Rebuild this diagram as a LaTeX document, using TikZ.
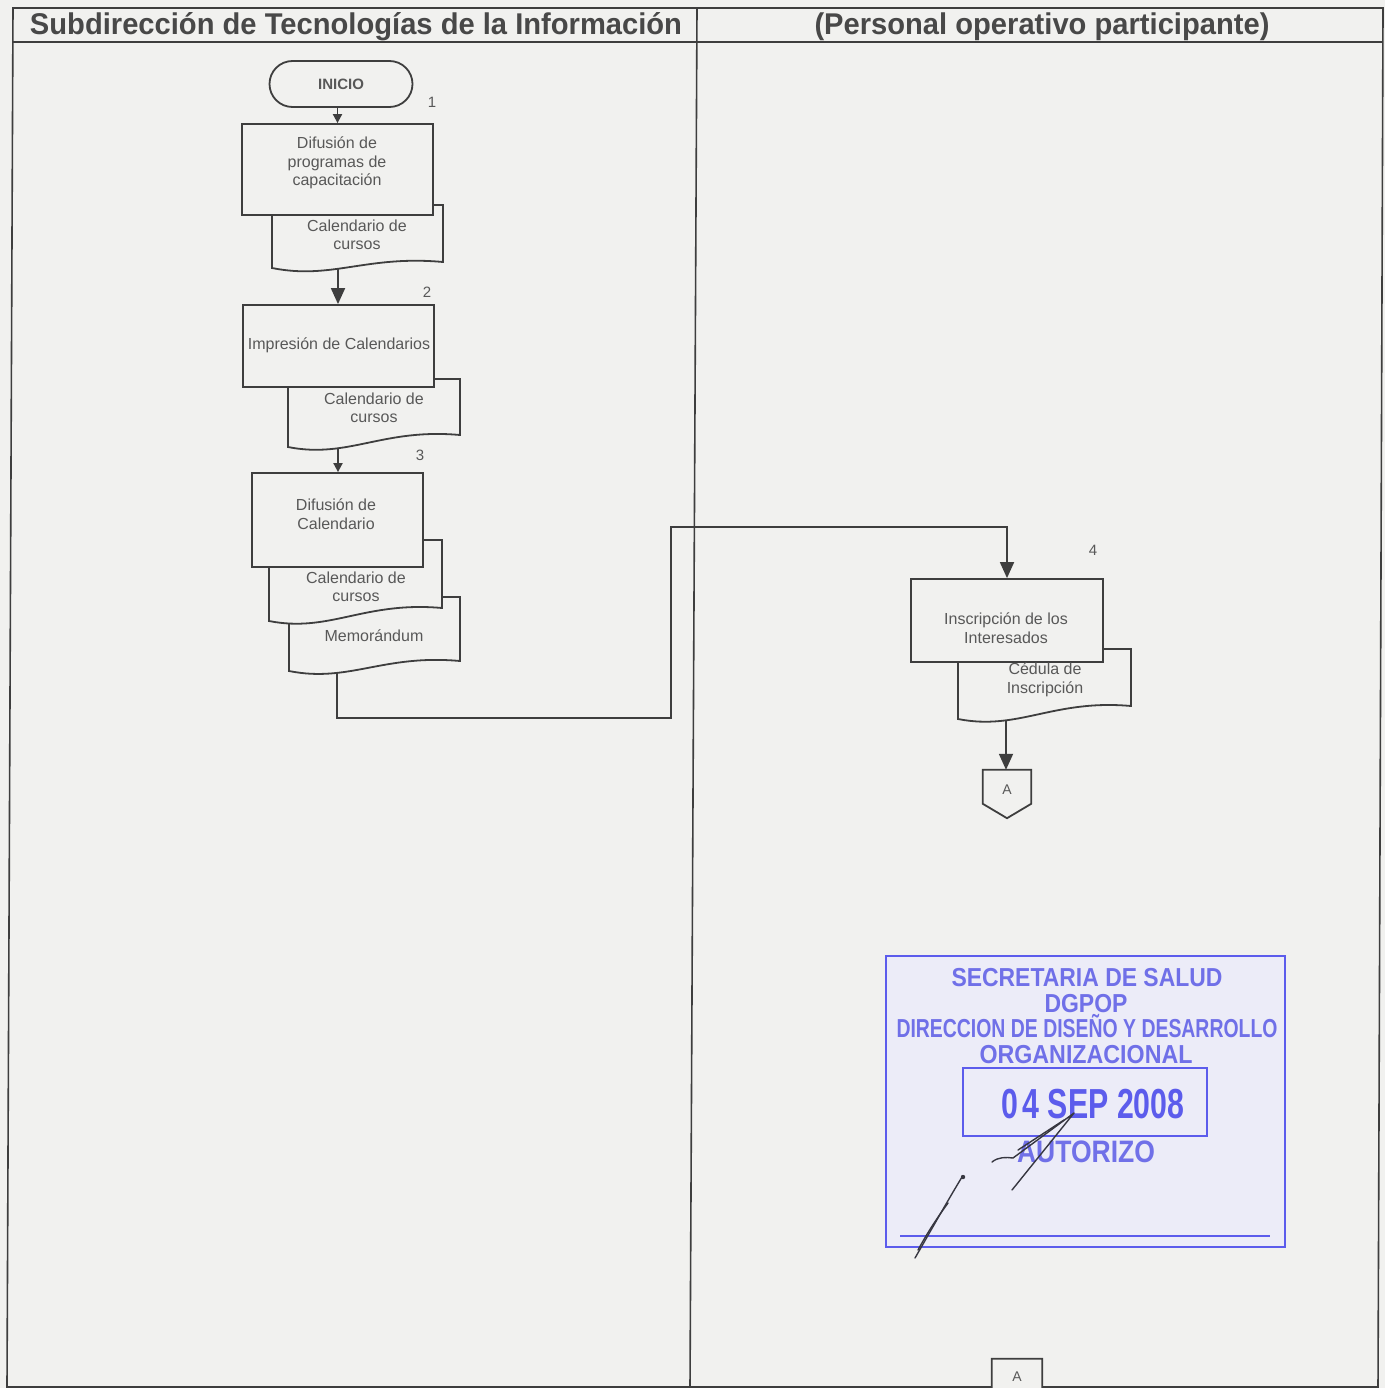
\documentclass[tikz,border=0pt]{standalone}
\usepackage{fontspec}
\setmainfont{Liberation Sans}
\usepackage{graphicx}
\usetikzlibrary{arrows.meta,calc}
\definecolor{bgc}{RGB}{241,241,239}
\definecolor{linec}{RGB}{62,62,62}
\definecolor{txtc}{RGB}{88,88,88}
\definecolor{hdrc}{RGB}{72,72,72}
\definecolor{stampc}{RGB}{92,92,236}
\definecolor{stamptc}{RGB}{112,112,232}
\definecolor{stampfill}{RGB}{236,236,248}
\definecolor{sigc}{RGB}{55,55,65}
\newcommand{\docshape}[5]{% x1, x2, top, y bottom-left, y bottom-right
  \pgfmathsetmacro\dw{#2-#1}%
  \pgfmathsetmacro\cxa{#1+0.35*\dw}%
  \pgfmathsetmacro\cxb{#1+0.55*\dw}%
  \filldraw[docbox] (#1,#3) -- (#2,#3) -- (#2,#5)
    .. controls (\cxb,#5-7) and (\cxa,#4+12) .. (#1,#4) -- cycle;
}
\begin{document}
\begin{tikzpicture}[x=1pt,y=-1pt,
  procbox/.style={draw=linec, fill=bgc, line width=1.8pt, inner sep=0pt},
  docbox/.style={draw=linec, fill=bgc, line width=1.8pt},
  txt/.style={text=txtc, font=\fontsize{16}{18.5}\selectfont, align=center, inner sep=0pt},
  num/.style={text=txtc, font=\fontsize{15}{15}\selectfont, inner sep=0pt},
  flow/.style={draw=linec, line width=1.8pt},
  bigtip/.style={-{Triangle[length=16pt,width=14pt]}},
  smalltip/.style={-{Triangle[length=9pt,width=9pt]}},
  stampline/.style={draw=stampc, line width=2.2pt},
  stamptxt/.style={text=stamptc, anchor=base, inner sep=0pt},
  sig/.style={draw=sigc, line width=1.4pt, line cap=round, line join=round}]
\clip (0,0) rectangle (1385,1388);
\useasboundingbox (0,0) rectangle (1385,1388);
\fill[bgc] (0,0) rectangle (1385,1388);

% frame and lanes
\draw[linec, line width=1.6pt] (13,8) -- (1383,8) -- (1378,1387) -- (7,1387) -- cycle;
\draw[linec, line width=1.6pt] (13,42) -- (1383,42);
\draw[linec, line width=1.6pt] (697,8) -- (690,1387);
\node[anchor=base, inner sep=0pt, text=hdrc] (h1) at (356,35)
  {\resizebox{652pt}{\height}{\fontsize{30}{30}\selectfont\bfseries Subdirección de Tecnologías de la Información}};
\node[anchor=base, inner sep=0pt, text=hdrc] (h2) at (1042,35)
  {\resizebox{455pt}{\height}{\fontsize{30}{30}\selectfont\bfseries (Personal operativo participante)}};

% step 1
\node[draw=linec, fill=bgc, line width=1.8pt, rounded corners=23pt, minimum width=143pt,
  minimum height=46pt, inner sep=0pt, text=txtc, font=\fontsize{15}{15}\selectfont\bfseries] (ini) at (341,84) {INICIO};
\node[num] (n1) at (432,102) {1};
\docshape{272}{443}{205}{268}{262}
\node[procbox, minimum width=191pt, minimum height=91pt] (b1) at (337.5,169.5) {};
\node[txt] (t1) at (337,163) {Difusión de\\programas de\\capacitación};
\node[txt] (dt1) at (357,235) {Calendario de\\cursos};
\coordinate (d1b) at (338,269);
\draw[flow, smalltip] (ini.south -| b1.north) -- (b1.north);

% step 2
\node[num] (n2) at (427,292) {2};
\docshape{288}{460}{379}{447}{435}
\node[procbox, minimum width=191pt, minimum height=82pt] (b2) at (338.5,346) {};
\node[txt] (t2) at (339,345) {Impresión de Calendarios};
\node[txt] (dt2) at (374,408) {Calendario de\\cursos};
\coordinate (d2b) at (338,449);
\draw[flow, bigtip] (d1b) -- (d1b |- b2.north);

% step 3
\node[num] (n3) at (420,455) {3};
\docshape{289}{460}{597}{671}{661}
\docshape{269}{442}{540}{621}{608}
\node[procbox, minimum width=171pt, minimum height=94pt] (b3) at (337.5,520) {};
\node[txt] (t3) at (336,514) {Difusión de\\Calendario};
\node[txt] (dt3a) at (356,587) {Calendario de\\cursos};
\node[txt] (dt3b) at (374,636) {Memorándum};
\coordinate (d3b) at (337,673);
\draw[flow, smalltip] (d2b) -- (d2b |- b3.north);

% step 4
\node[num] (n4) at (1093,550) {4};
\docshape{958}{1131}{649}{719}{706}
\node[procbox, minimum width=192pt, minimum height=83pt] (b4) at (1007,620.5) {};
\node[txt] (t4) at (1006,628) {Inscripción de los\\Interesados};
\node[txt] (dt4) at (1045,680) {Cédula de\\Inscripción};
\coordinate (d4b) at (1006,721);
\coordinate (j1) at (671,718);
\coordinate (j2) at (671,527);
\draw[flow, bigtip] (d3b) |- (j1) -- (j2) -| (b4.north);

% off-page connector A
\node[inner sep=0pt, minimum width=48pt, minimum height=48pt] (A1) at (1007,794) {};
\filldraw[docbox] (A1.north west) -- (A1.north east) -- ($(A1.north east)+(0,34)$)
  -- (A1.south) -- ($(A1.north west)+(0,34)$) -- cycle;
\node[text=txtc, font=\fontsize{14}{14}\selectfont, inner sep=0pt] (A1t) at (1007,790) {A};
\draw[flow, bigtip] (d4b) -- (d4b |- A1.north);

\node[inner sep=0pt, minimum width=50pt, minimum height=48pt] (A2) at (1017,1383) {};
\filldraw[docbox] (A2.north west) -- (A2.north east) -- ($(A2.north east)+(0,34)$)
  -- (A2.south) -- ($(A2.north west)+(0,34)$) -- cycle;
\node[text=txtc, font=\fontsize{14}{14}\selectfont, inner sep=0pt] (A2t) at (1017,1377) {A};

% stamp
\filldraw[stampline, fill=stampfill] (886,956) rectangle (1285,1247);
\draw[stampline] (963,1068) rectangle (1207,1136);
\draw[stampc, line width=2.8pt] (900,1236) -- (1270,1236);
\node[stamptxt] (s1) at (1087,986) {\resizebox{271pt}{\height}{\fontsize{26}{26}\selectfont\bfseries SECRETARIA DE SALUD}};
\node[stamptxt] (s2) at (1086,1012) {\resizebox{83pt}{\height}{\fontsize{26}{26}\selectfont\bfseries DGPOP}};
\node[stamptxt] (s3) at (1087,1037) {\resizebox{381pt}{\height}{\fontsize{26}{26}\selectfont\bfseries DIRECCION DE DISEÑO Y DESARROLLO}};
\node[stamptxt] (s4) at (1086,1063) {\resizebox{213pt}{\height}{\fontsize{26}{26}\selectfont\bfseries ORGANIZACIONAL}};
\node[stamptxt, text=stampc] (s5) at (1093,1118) {\resizebox{183pt}{\height}{\fontsize{42}{42}\selectfont\bfseries 0\kern6pt4 SEP 2008}};
\node[stamptxt] (s6) at (1086,1162) {\resizebox{138pt}{\height}{\fontsize{31}{31}\selectfont\bfseries AUTORIZO}};

% signature
\draw[sig] (915,1258) .. controls (930,1232) and (948,1200) .. (962,1177);
\draw[sig] (918,1250) .. controls (930,1228) and (940,1214) .. (948,1203);
\fill[sigc] (963,1177) circle (2.2pt);
\draw[sig] (992,1162) .. controls (998,1157) and (1006,1157) .. (1013,1158)
  -- (1074,1113) -- (1012,1190);
\draw[sig] (1018,1150) -- (1064,1120);
\end{tikzpicture}
\end{document}
